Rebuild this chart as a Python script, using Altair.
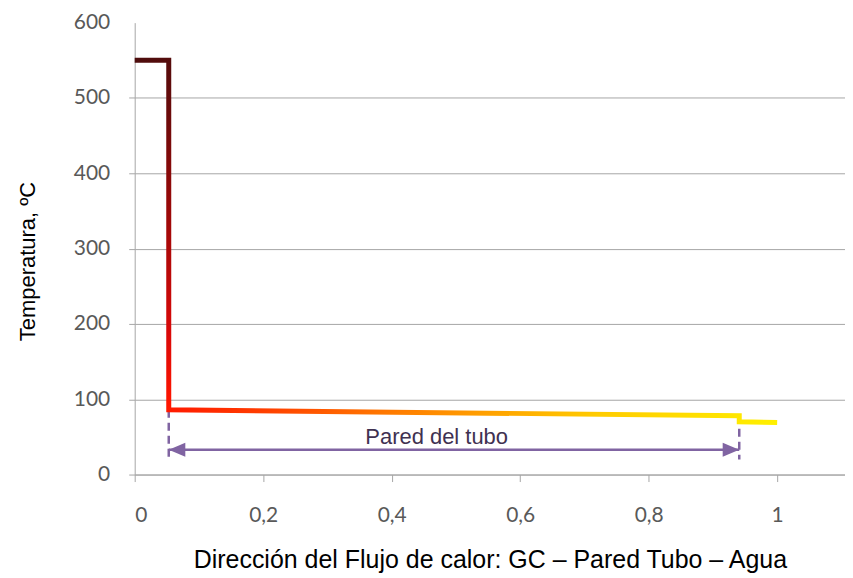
import altair as alt
import pandas as pd

# Temperature profile (x position, temperature)
x_pos = [0.0, 0.053, 0.053, 0.941, 0.941, 1.0]
temps = [550, 550, 86, 78, 70, 69]

# Wall annotation
wall_x = [0.053, 0.941]
wall_top = [86, 78]
wall_bottom = [22, 20]
arrow_y = 33
label_x = 0.47
label_y = 50
label_text = "Pared del tubo"

x_ticks = [0, 0.2, 0.4, 0.6, 0.8, 1.0]
y_ticks = [0, 100, 200, 300, 400, 500, 600]

profile = pd.DataFrame({"x": x_pos, "t": temps, "o": list(range(len(x_pos)))})
walls = pd.DataFrame({"x": wall_x, "t": wall_top, "t2": wall_bottom})
arrow = pd.DataFrame({"x": [wall_x[0]], "x2": [wall_x[1]], "t": [arrow_y]})
left_head = pd.DataFrame({"x": [wall_x[0]], "t": [arrow_y]})
right_head = pd.DataFrame({"x": [wall_x[1]], "t": [arrow_y]})
label = pd.DataFrame({"x": [label_x], "t": [label_y], "txt": [label_text]})

purple = "#8064a2"
grey = "#a6a6a6"

xscale = alt.Scale(domain=[0, 1.1056], nice=False, zero=False)
yscale = alt.Scale(domain=[0, 600], nice=False)

xaxis = alt.Axis(
    values=x_ticks, grid=False, domainColor=grey, tickColor=grey, tickSize=7,
    labelFont="Lato", labelFontSize=21, labelColor="#595959", labelPadding=23,
    labelExpr="replace(format(datum.value, '~g'), '.', ',')",
    title="Dirección del Flujo de calor: GC – Pared Tubo – Agua",
    titleFont="Liberation Sans", titleFontSize=25, titleFontWeight="normal",
    titleColor="#000000", titleY=93, titleBaseline="alphabetic",
)
yaxis = alt.Axis(
    values=y_ticks, grid=True, gridColor=grey,
    gridOpacity={"condition": {"test": "datum.value == 600", "value": 0}, "value": 1},
    tickOpacity={"condition": {"test": "datum.value == 600", "value": 0}, "value": 1},
    domainColor=grey, tickColor=grey, tickSize=6,
    labelFont="Lato", labelFontSize=21, labelColor="#595959", labelPadding=19,
    title="Temperatura, ºC", titleFont="Liberation Sans", titleFontSize=22,
    titleFontWeight="normal", titleColor="#000000", titleX=-107, titleY=239,
    titleAngle=270, titleAlign="center", titleBaseline="middle",
)

dashes = alt.Chart(walls).mark_rule(color=purple, strokeWidth=2.5, strokeDash=[8, 5]).encode(
    x=alt.X("x:Q", scale=xscale, axis=xaxis), y=alt.Y("t:Q", scale=yscale, axis=yaxis), y2="t2:Q"
)
arrow_line = alt.Chart(arrow).mark_rule(color=purple, strokeWidth=2.5).encode(
    x=alt.X("x:Q", scale=xscale), x2="x2:Q", y=alt.Y("t:Q", scale=yscale)
)
lh = alt.Chart(left_head).mark_point(
    shape="M0,0 L1,-0.42 L1,0.42 Z", size=1100, filled=True, color=purple, opacity=1
).encode(x=alt.X("x:Q", scale=xscale), y=alt.Y("t:Q", scale=yscale))
rh = alt.Chart(right_head).mark_point(
    shape="M0,0 L-1,-0.42 L-1,0.42 Z", size=1100, filled=True, color=purple, opacity=1
).encode(x=alt.X("x:Q", scale=xscale), y=alt.Y("t:Q", scale=yscale))
txt = alt.Chart(label).mark_text(
    font="Liberation Sans", fontSize=22, color="#3f3151", align="center", baseline="middle"
).encode(x=alt.X("x:Q", scale=xscale), y=alt.Y("t:Q", scale=yscale), text="txt:N")

gradient = alt.Gradient(
    gradient="linear", x1=0, y1=0, x2=1, y2=1,
    stops=[
        alt.GradientStop(offset=0.0, color="#4d0d0d"),
        alt.GradientStop(offset=0.1, color="#6b0a0a"),
        alt.GradientStop(offset=0.25, color="#a00808"),
        alt.GradientStop(offset=0.4, color="#d80808"),
        alt.GradientStop(offset=0.5, color="#ff1500"),
        alt.GradientStop(offset=0.58, color="#ff3c00"),
        alt.GradientStop(offset=0.68, color="#ff7800"),
        alt.GradientStop(offset=0.76, color="#ffa000"),
        alt.GradientStop(offset=0.85, color="#ffcc00"),
        alt.GradientStop(offset=1.0, color="#fff000"),
    ],
)
line = alt.Chart(profile).mark_line(
    stroke=gradient, strokeWidth=5, strokeJoin="miter", strokeCap="butt"
).encode(x=alt.X("x:Q", scale=xscale), y=alt.Y("t:Q", scale=yscale), order="o:Q")

chart = alt.layer(dashes, arrow_line, lh, rh, txt, line).properties(
    width=712, height=453,
    autosize=alt.AutoSizeParams(type="none"),
    padding={"left": 127, "top": 14, "right": 0, "bottom": 100},
).configure_view(stroke=None)

chart.save("out.html", embed_options={"renderer": "svg", "actions": False})
